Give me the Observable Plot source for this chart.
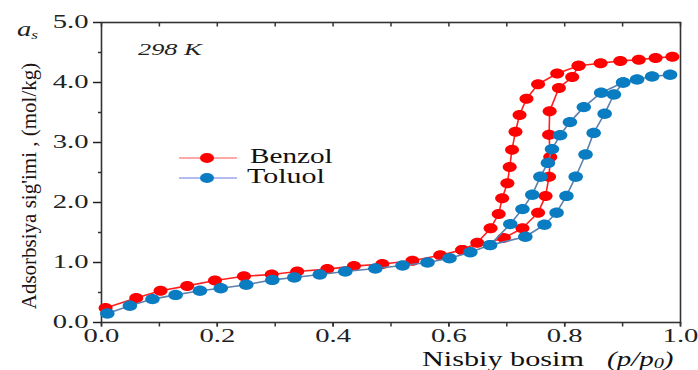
<!DOCTYPE html>
<html><head><meta charset="utf-8">
<script src="https://cdn.jsdelivr.net/npm/d3@7"></script>
<script src="https://cdn.jsdelivr.net/npm/@observablehq/plot@0.6"></script>
<style>
body{margin:0;background:#fff}
#wrap{position:relative;width:698px;height:370px;overflow:hidden;background:#fff}
.t{position:absolute;font-family:"Liberation Serif","Times New Roman",serif;white-space:nowrap;line-height:0.8;transform-origin:0 0;color:#111}
</style></head><body><div id="wrap"></div>
<script>
// Benzol (red): adsorption branch (full) and desorption branch
const benzolAds = [
  [0.007,0.24],[0.060,0.41],[0.102,0.53],[0.148,0.61],[0.196,0.70],[0.246,0.77],
  [0.294,0.80],[0.338,0.85],[0.390,0.89],[0.436,0.94],[0.485,0.975],[0.537,1.03],
  [0.585,1.12],[0.623,1.21],[0.695,1.41],[0.727,1.57],[0.754,1.83],[0.767,2.11],
  [0.773,2.43],[0.775,2.76],[0.773,3.13],[0.774,3.52],[0.790,3.91],[0.813,4.09],
  [0.824,4.28],[0.862,4.32],[0.896,4.36],[0.928,4.38],[0.957,4.41],[0.986,4.43]
];
const benzolDes = [
  [0.824,4.28],[0.787,4.15],[0.754,3.97],[0.734,3.73],[0.722,3.46],[0.715,3.18],
  [0.709,2.88],[0.705,2.59],[0.701,2.32],[0.692,2.07],[0.686,1.81],[0.672,1.57],
  [0.649,1.33],[0.623,1.21]
];
// Toluol (blue)
const toluolAds = [
  [0.010,0.15],[0.049,0.28],[0.088,0.39],[0.128,0.46],[0.170,0.53],[0.206,0.57],
  [0.250,0.63],[0.295,0.71],[0.333,0.75],[0.377,0.80],[0.421,0.85],[0.473,0.90],
  [0.520,0.95],[0.563,1.00],[0.601,1.07],[0.637,1.17],[0.671,1.29],[0.732,1.43],
  [0.765,1.63],[0.786,1.83],[0.803,2.11],[0.819,2.43],[0.836,2.80],[0.850,3.16],
  [0.869,3.48],[0.885,3.80],[0.901,4.00],[0.925,4.05],[0.951,4.10],[0.982,4.13]
];
const toluolDes = [
  [0.901,4.00],[0.863,3.83],[0.833,3.59],[0.809,3.34],[0.792,3.12],[0.778,2.89],
  [0.771,2.66],[0.758,2.43],[0.744,2.13],[0.727,1.89],[0.706,1.64],[0.671,1.29]
];
const xMajor = [0, 0.2, 0.4, 0.6, 0.8, 1.0];
const xAll = [0,0.1,0.2,0.3,0.4,0.5,0.6,0.7,0.8,0.9,1.0];
const yMajor = [0, 1, 2, 3, 4, 5];
const yMinor = [0.5, 1.5, 2.5, 3.5, 4.5];
const seriesNames = ["Benzol", "Toluol"];

const RED = "#ff0000", RED_LINE = "#ff1f1f";
const BLUE = "#0a7cc2", BLUE_LINE = "#5d80ad";

const ellipse = {
  draw(ctx, size) {
    const r = Math.sqrt(size / Math.PI), a = r * 1.4, b = r, k = 0.5523;
    ctx.moveTo(a, 0);
    ctx.bezierCurveTo(a, k*b, k*a, b, 0, b);
    ctx.bezierCurveTo(-k*a, b, -a, k*b, -a, 0);
    ctx.bezierCurveTo(-a, -k*b, -k*a, -b, 0, -b);
    ctx.bezierCurveTo(k*a, -b, a, -k*b, a, 0);
    ctx.closePath();
  }
};
const X = d => d[0], Y = d => d[1];
const W = 698, H = 370, ML = 101, MR = 18, MT = 22, MB = 48;
const innerH = H - MT - MB;

const plot = Plot.plot({
  width: W, height: H,
  marginLeft: ML, marginRight: MR, marginTop: MT, marginBottom: MB,
  style: {fontFamily: '"Liberation Serif","Times New Roman",serif', fontSize: "18.5px", background: "#fff", color: "#222"},
  x: {domain: [0, 1]},
  y: {domain: [0, 5]},
  marks: [
    Plot.frame({stroke: "#333", strokeWidth: 1.6}),
    Plot.axisY({ticks: yMajor, tickSize: 8, tickPadding: 5, tickFormat: d => d.toFixed(1), label: null, color: "#222", strokeWidth: 1.5}),
    Plot.tickY(yMinor, {y: d => d, insetLeft: -3, insetRight: W - ML - MR, stroke: "#333", strokeWidth: 1.5}),
    Plot.axisX({ticks: xMajor, tickSize: 4.5, tickPadding: 2, tickFormat: d => d.toFixed(1), label: null, color: "#222", strokeWidth: 1.5}),
    Plot.tickX(xAll, {x: d => d, insetTop: innerH, insetBottom: -4.5, stroke: "#333", strokeWidth: 1.5}),
    Plot.tickX(xAll, {x: d => d, insetBottom: innerH - 4.5, stroke: "#333", strokeWidth: 1.5}),
    Plot.line(benzolAds, {x: X, y: Y, stroke: RED_LINE, strokeWidth: 1.6}),
    Plot.line(benzolDes, {x: X, y: Y, stroke: RED_LINE, strokeWidth: 1.6}),
    Plot.dot(benzolAds, {x: X, y: Y, r: 5, symbol: ellipse, fill: RED}),
    Plot.dot(benzolDes, {x: X, y: Y, r: 5, symbol: ellipse, fill: RED}),
    Plot.line(toluolAds, {x: X, y: Y, stroke: BLUE_LINE, strokeWidth: 1.6}),
    Plot.line(toluolDes, {x: X, y: Y, stroke: BLUE_LINE, strokeWidth: 1.6}),
    Plot.dot(toluolAds, {x: X, y: Y, r: 5.2, symbol: ellipse, fill: BLUE}),
    Plot.dot(toluolDes, {x: X, y: Y, r: 5.2, symbol: ellipse, fill: BLUE})
  ]
});

// widen tick label glyphs horizontally (reference uses a wide serif)
plot.querySelectorAll("text").forEach(t => {
  const tr = t.getAttribute("transform");
  if (tr) t.setAttribute("transform", tr + " scale(1.55,1)");
});

const wrap = document.getElementById("wrap");
wrap.appendChild(plot);

function addText(html, left, baseline, fs, sx, extra) {
  const d = document.createElement("div");
  d.className = "t";
  d.innerHTML = html;
  d.style.left = left + "px";
  d.style.top = (baseline - 0.7375 * fs) + "px";
  d.style.fontSize = fs + "px";
  d.style.transform = `scaleX(${sx})`;
  if (extra) Object.assign(d.style, extra);
  wrap.appendChild(d);
  return d;
}
// axis symbol a_s
addText('<i>a<sub style="font-size:60%;vertical-align:-0.2em">s</sub></i>', 17, 36, 22, 1.3, {color: "#222"});
// temperature
addText('<i>298 K</i>', 138, 56, 17, 1.55, {color: "#222"});
// x axis label
addText('Nisbiy bosim', 422, 365.5, 20, 1.51);
addText('<i>(p/p<sub style="font-size:70%;vertical-align:-0.15em">0</sub>)</i>', 607, 365.5, 20, 1.45);
// y axis label (rotated)
const yl = document.createElement("div");
yl.className = "t";
yl.textContent = "Adsorbsiya sig'imi , (mol/kg)";
Object.assign(yl.style, {left: "29px", top: "185.5px", fontSize: "21px", lineHeight: "1", color: "#1e1414",
  transformOrigin: "50% 50%", transform: "translate(-50%,-50%) rotate(-90deg)"});
wrap.appendChild(yl);

// legend
const legendColors = [[RED, "#ff8c8c"], [BLUE, "#9aa6ee"]];
const legendRows = [158, 178];
seriesNames.forEach((name, i) => {
  const cy = legendRows[i];
  const s = document.createElementNS("http://www.w3.org/2000/svg", "svg");
  s.setAttribute("width", 60); s.setAttribute("height", 14);
  Object.assign(s.style, {position: "absolute", left: "179px", top: (cy - 7) + "px"});
  s.innerHTML = `<line x1="0" x2="58" y1="7" y2="7" stroke="${legendColors[i][1]}" stroke-width="1.6"/>` +
    `<ellipse cx="28" cy="7" rx="7" ry="5" fill="${legendColors[i][0]}"/>`;
  wrap.appendChild(s);
  addText(name, i === 0 ? 250 : 247, cy + 5, 20, i === 0 ? 1.46 : 1.5);
});
</script></body></html>
